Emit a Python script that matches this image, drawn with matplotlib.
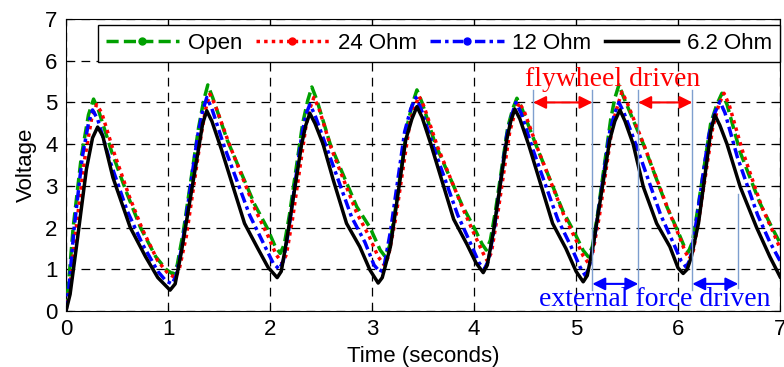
import matplotlib.pyplot as plt
from matplotlib.lines import Line2D

# Voltage traces (time in seconds, voltage)
open_t = [0, 0.03, 0.07, 0.15, 0.22, 0.27,
          0.32, 0.45, 0.6, 0.73, 0.88, 0.98, 1.05,
          1.09, 1.15, 1.3, 1.35, 1.39,
          1.44, 1.58, 1.85, 1.97, 2.05, 2.1,
          2.14, 2.19, 2.32, 2.37, 2.41,
          2.46, 2.59, 2.85, 2.98, 3.08, 3.13,
          3.17, 3.22, 3.35, 3.4, 3.44,
          3.49, 3.62, 3.88, 4.0, 4.08, 4.12,
          4.16, 4.21, 4.33, 4.38, 4.42,
          4.47, 4.62, 4.87, 4.99, 5.07, 5.12,
          5.16, 5.21, 5.34, 5.38, 5.42,
          5.47, 5.66, 5.89, 6.0, 6.06, 6.1,
          6.14, 6.19, 6.32, 6.38, 6.43,
          6.48, 6.61, 6.8, 6.92, 7.0]
open_v = [0, 0.8, 2.0, 3.7, 4.7, 5.08,
          4.8, 3.8, 2.8, 2.0, 1.3, 1.0, 0.88,
          1.1, 1.9, 4.4, 5.05, 5.42,
          5.1, 4.1, 2.55, 2.0, 1.55, 1.38,
          1.6, 2.3, 4.5, 5.05, 5.37,
          5.05, 4.0, 2.5, 2.0, 1.46, 1.3,
          1.55, 2.3, 4.5, 5.0, 5.3,
          5.0, 4.0, 2.55, 2.0, 1.6, 1.46,
          1.7, 2.4, 4.4, 4.85, 5.1,
          4.85, 3.9, 2.4, 1.85, 1.45, 1.3,
          1.55, 2.3, 4.6, 5.1, 5.42,
          5.1, 4.0, 2.5, 1.9, 1.55, 1.41,
          1.65, 2.4, 4.5, 4.95, 5.22,
          4.95, 3.8, 2.6, 2.0, 1.63]

ohm24_t = [0, 0.04, 0.09, 0.18, 0.25, 0.3,
           0.35, 0.47, 0.62, 0.75, 0.9, 1.0, 1.07,
           1.11, 1.18, 1.33, 1.37, 1.41,
           1.46, 1.6, 1.86, 1.98, 2.06, 2.12,
           2.16, 2.22, 2.35, 2.39, 2.43,
           2.48, 2.6, 2.85, 2.97, 3.06, 3.12,
           3.16, 3.23, 3.37, 3.42, 3.46,
           3.51, 3.64, 3.9, 4.01, 4.09, 4.13,
           4.17, 4.23, 4.35, 4.4, 4.44,
           4.49, 4.63, 4.88, 5.0, 5.07, 5.12,
           5.16, 5.23, 5.36, 5.41, 5.45,
           5.5, 5.67, 5.9, 6.01, 6.07, 6.11,
           6.15, 6.21, 6.34, 6.4, 6.45,
           6.5, 6.63, 6.82, 6.93, 7.0]
ohm24_v = [0, 0.6, 1.8, 3.6, 4.6, 4.95,
           4.75, 3.8, 2.75, 1.95, 1.2, 0.9, 0.8,
           1.0, 1.8, 4.3, 4.85, 5.2,
           4.95, 4.0, 2.4, 1.8, 1.35, 1.15,
           1.35, 2.2, 4.4, 4.85, 5.12,
           4.85, 3.9, 2.35, 1.8, 1.3, 1.1,
           1.3, 2.2, 4.5, 4.9, 5.15,
           4.9, 3.95, 2.4, 1.8, 1.38, 1.2,
           1.4, 2.3, 4.3, 4.75, 5.0,
           4.8, 3.85, 2.3, 1.7, 1.32, 1.15,
           1.35, 2.3, 4.5, 4.95, 5.25,
           5.0, 3.95, 2.45, 1.8, 1.42, 1.25,
           1.45, 2.3, 4.4, 4.95, 5.22,
           4.95, 3.85, 2.5, 1.9, 1.5]

ohm12_t = [0, 0.03, 0.08, 0.16, 0.22, 0.26,
           0.31, 0.43, 0.6, 0.75, 0.9, 0.98, 1.04,
           1.08, 1.14, 1.29, 1.34, 1.38,
           1.43, 1.55, 1.8, 1.93, 2.03, 2.09,
           2.13, 2.18, 2.31, 2.35, 2.39,
           2.44, 2.55, 2.8, 2.93, 3.02, 3.08,
           3.12, 3.18, 3.32, 3.38, 3.43,
           3.48, 3.6, 3.84, 3.96, 4.05, 4.1,
           4.14, 4.2, 4.32, 4.37, 4.41,
           4.46, 4.58, 4.82, 4.95, 5.04, 5.09,
           5.13, 5.19, 5.33, 5.38, 5.42,
           5.47, 5.6, 5.83, 5.95, 6.03, 6.08,
           6.12, 6.17, 6.3, 6.36, 6.41,
           6.46, 6.58, 6.78, 6.9, 7.0]
ohm12_v = [0, 0.6, 2.0, 3.7, 4.5, 4.82,
           4.6, 3.6, 2.4, 1.6, 0.95, 0.72, 0.65,
           0.85, 1.6, 4.2, 4.8, 5.12,
           4.85, 3.95, 2.3, 1.65, 1.15, 1.0,
           1.2, 1.9, 4.2, 4.7, 4.95,
           4.7, 3.95, 2.25, 1.65, 1.1, 0.93,
           1.1, 1.9, 4.3, 4.85, 5.12,
           4.85, 3.95, 2.3, 1.65, 1.15, 1.0,
           1.2, 2.0, 4.2, 4.7, 5.0,
           4.75, 3.85, 2.2, 1.55, 1.05, 0.85,
           1.05, 1.9, 4.3, 4.75, 5.0,
           4.75, 3.9, 2.3, 1.65, 1.2, 1.05,
           1.25, 2.0, 4.2, 4.75, 5.02,
           4.75, 3.7, 2.3, 1.65, 1.2]

ohm62_t = [0, 0.04, 0.1, 0.2, 0.26, 0.31,
           0.36, 0.46, 0.63, 0.78, 0.9, 1.02,
           1.07, 1.13, 1.3, 1.34, 1.38,
           1.43, 1.52, 1.75, 1.88, 1.98, 2.07,
           2.11, 2.17, 2.31, 2.35, 2.39,
           2.44, 2.52, 2.62, 2.75, 2.88, 2.98, 3.06,
           3.1, 3.18, 3.33, 3.39, 3.44,
           3.49, 3.57, 3.8, 3.93, 4.02, 4.09,
           4.13, 4.19, 4.32, 4.36, 4.4,
           4.45, 4.54, 4.77, 4.9, 5.0, 5.07,
           5.11, 5.17, 5.33, 5.38, 5.43,
           5.48, 5.56, 5.66, 5.79, 5.92, 6.0, 6.05,
           6.09, 6.13, 6.2, 6.28, 6.32, 6.36,
           6.41, 6.48, 6.61, 6.77, 6.9, 7.0]
ohm62_v = [0, 0.4, 1.5, 3.4, 4.15, 4.41,
           4.2, 3.2, 2.0, 1.3, 0.8, 0.5,
           0.65, 1.4, 3.9, 4.5, 4.8,
           4.55, 3.9, 2.1, 1.5, 1.05, 0.8,
           0.95, 1.8, 4.0, 4.45, 4.74,
           4.5, 4.0, 3.14, 2.1, 1.54, 0.98, 0.67,
           0.8, 1.54, 4.1, 4.6, 4.9,
           4.65, 4.05, 2.2, 1.6, 1.15, 0.92,
           1.1, 1.9, 4.1, 4.55, 4.84,
           4.6, 3.95, 2.1, 1.5, 0.95, 0.7,
           0.85, 1.6, 4.1, 4.55, 4.82,
           4.55, 4.0, 2.97, 2.1, 1.54, 1.03, 0.9,
           1.0, 1.3, 2.1, 3.55, 4.3, 4.7,
           4.45, 4.0, 2.97, 2.0, 1.3, 0.82]

labels = ["Open", "24 Ohm", "12 Ohm", "6.2 Ohm"]
colors = ["#00a000", "#ff0000", "#0000ff", "black"]
dashes = [(3.5, 1.5), (1, 1.2), (3, 1.2, 1, 1.2), None]

# phase markers: flywheel / external force
phase_x = [4.58, 5.16, 5.61, 6.14, 6.59]
fly_arrows = [(4.58, 5.16), (5.61, 6.14)]
ext_arrows = [(5.16, 5.61), (6.14, 6.59)]

plt.rcParams["font.family"] = ["Liberation Sans", "DejaVu Sans"]
plt.rcParams["font.size"] = 16

fig = plt.figure(figsize=(7.84, 3.67), dpi=100)
ax = fig.add_axes([0.0842, 0.1526, 0.9108, 0.7956])

series = [(open_t, open_v), (ohm24_t, ohm24_v), (ohm12_t, ohm12_v), (ohm62_t, ohm62_v)]
handles = []
for (t, v), lab, c, d in zip(series, labels, colors, dashes):
    line, = ax.plot(t, v, color=c, lw=2.5, zorder=3)
    if d is not None:
        line.set_dashes(d)
    h = Line2D([], [], color=c, lw=2.5, marker="o" if d else None, markersize=5)
    if d is not None:
        h.set_dashes(d)
    handles.append(h)

# thin phase boundaries
ax.plot([phase_x[0]] * 2, [4.3, 5.3], color="#7f9fcf", lw=1, zorder=4)
for px in phase_x[1:4]:
    ax.plot([px, px], [0.5, 5.3], color="#7f9fcf", lw=1, zorder=4)
ax.plot([phase_x[4]] * 2, [0.55, 2.8], color="#7f9fcf", lw=1, zorder=4)

for x0, x1 in fly_arrows:
    ax.annotate("", xy=(x0, 5.0), xytext=(x1, 5.0),
                arrowprops=dict(arrowstyle="<|-|>", color="red", lw=1.5,
                                mutation_scale=19, shrinkA=0, shrinkB=0), zorder=5)
for x0, x1 in ext_arrows:
    ax.annotate("", xy=(x0, 0.65), xytext=(x1, 0.65),
                arrowprops=dict(arrowstyle="<|-|>", color="blue", lw=1.5,
                                mutation_scale=19, shrinkA=0, shrinkB=0), zorder=5)

ax.text(5.36, 5.55, "flywheel driven", color="red", fontsize=20,
        family="Liberation Serif", ha="center", va="center", zorder=6)
ax.text(5.77, 0.27, "external force driven", color="blue", fontsize=20,
        family="Liberation Serif", ha="center", va="center", zorder=6)

ax.set_xlim(0, 7)
ax.set_ylim(0, 7)
ax.set_xticks(range(8))
ax.set_yticks(range(8))
ax.tick_params(direction="in", top=True, right=True, length=4, pad=6)
ax.grid(True, color="black", linestyle=(0, (7, 5)), linewidth=0.9)
ax.set_axisbelow(True)
ax.set_xlabel("Time (seconds)", labelpad=4)
ax.set_ylabel("Voltage", labelpad=6)

leg = ax.legend(handles, labels, loc="upper right", bbox_to_anchor=(1.0, 0.979),
                ncol=4, numpoints=1, handlelength=3.3, handletextpad=0.4,
                columnspacing=0.6, borderpad=0.35, borderaxespad=0,
                fancybox=False, framealpha=1, edgecolor="black")
leg.get_frame().set_linewidth(1)
leg.set_zorder(7)

fig.savefig("out.png", dpi=100)
